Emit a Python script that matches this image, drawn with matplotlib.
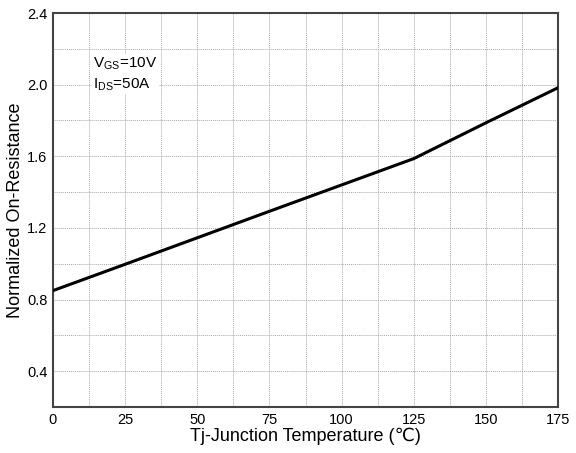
import numpy as np
import matplotlib
matplotlib.use("Agg")
from matplotlib import pyplot as plt

plt.rcParams['font.family'] = ['Liberation Sans', 'DejaVu Sans']
plt.rcParams['mathtext.fontset'] = 'custom'
plt.rcParams['mathtext.rm'] = 'Liberation Sans'

# curve
temp = [0, 25, 50, 75, 100, 125, 150, 175]
r_norm = [0.85, 0.997, 1.145, 1.293, 1.44, 1.587, 1.787, 1.983]

x_ticks = [0, 25, 50, 75, 100, 125, 150, 175]
y_ticks = [0.4, 0.8, 1.2, 1.6, 2.0, 2.4]
y_tick_labels = ['0.4', '0.8', '1.2', '1.6', '2.0', '2.4']

fig = plt.figure(figsize=(5.76, 4.53), dpi=100)
ax = fig.add_axes([0.092, 0.1015, 0.877, 0.8698])

ax.plot(temp, r_norm, color='black', linewidth=2.2, zorder=3)

ax.set_xlim(0, 175)
ax.set_ylim(0.2, 2.4)
ax.set_xticks(x_ticks)
ax.set_xticks(np.arange(0, 175.1, 12.5), minor=True)
ax.set_yticks(y_ticks)
ax.set_yticklabels(y_tick_labels)
ax.set_yticks(np.arange(0.2, 2.41, 0.2), minor=True)
ax.tick_params(which='both', length=0, labelsize=10.5, pad=4)
ax.grid(which='both', color='#a8a8a8', linestyle=(0, (1, 1)), linewidth=0.7)

for s in ax.spines.values():
    s.set_color('#444444')
    s.set_linewidth(1.5)

ax.set_xlabel('Tj-Junction Temperature (\u2103)', fontsize=13, labelpad=1)
ax.set_ylabel('Normalized On-Resistance', fontsize=13, labelpad=2)

ax.text(0.08, 0.892, 'V$_{\\rm GS}$=10V\nI$_{\\rm DS}$=50A', transform=ax.transAxes,
        fontsize=11, va='top', ha='left', linespacing=1.3,
        bbox=dict(facecolor='white', edgecolor='none', pad=1))

fig.savefig('out.png', dpi=100)
